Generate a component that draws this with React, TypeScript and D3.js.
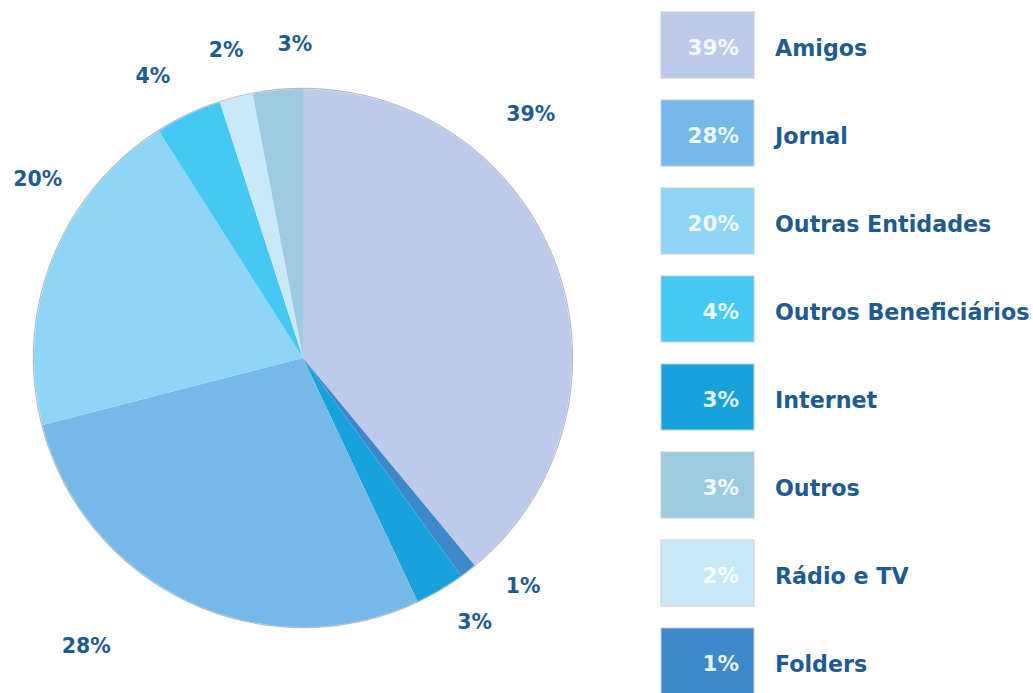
import React from "react";
import * as d3 from "d3";

const categories = ["Amigos", "Folders", "Internet", "Jornal", "Outras Entidades", "Outros Beneficiários", "Rádio e TV", "Outros"];
const values = [39, 1, 3, 28, 20, 4, 2, 3];
const colors = ["#bccbe9", "#3d88c8", "#18a2dc", "#74b9e7", "#8fd5f5", "#45c8f3", "#c9e9f9", "#9dcbe2"];
const legendOrder = ["Amigos", "Jornal", "Outras Entidades", "Outros Beneficiários", "Internet", "Outros", "Rádio e TV", "Folders"];
// label placement (polar, degrees clockwise from top, distance from center)
const labelAngles = [43, 136, 147, 217, 304, 332, 346, 358.5];
const labelRadii = [334, 317, 315, 360, 320, 320, 318, 314];

const W = 1033, H = 693;
const cx = 303, cy = 358, R = 269;
const textColor = "#1f5b8e";

export default function App() {
  const pie = d3.pie<number>().sort(null).value((d) => d);
  const arcs = pie(values);
  const arc = d3.arc<d3.PieArcDatum<number>>().innerRadius(0).outerRadius(R);
  const fmt = (v: number) => `${v}%`;
  const legendY = d3.scaleBand<string>().domain(legendOrder).range([12, 12 + 88 * legendOrder.length]).paddingInner(0);

  return (
    <svg width={W} height={H} style={{ position: "absolute", left: 0, top: 0, fontFamily: "DejaVu Sans, Verdana, sans-serif" }}>
      <g transform={`translate(${cx},${cy})`}>
        <circle r={R + 0.6} fill="none" stroke="#b8bcc2" strokeWidth={1.2} />
        {arcs.map((a, i) => (
          <path key={categories[i]} d={arc(a) || ""} fill={colors[i]} />
        ))}
        {arcs.map((a, i) => {
          const ang = (labelAngles[i] * Math.PI) / 180;
          const x = Math.sin(ang) * labelRadii[i];
          const y = -Math.cos(ang) * labelRadii[i];
          return (
            <text key={"l" + i} x={x} y={y} dy="0.35em" textAnchor="middle" fontSize={20.5} fontWeight="bold" fill={textColor}>
              {fmt(values[i])}
            </text>
          );
        })}
      </g>
      {legendOrder.map((name) => {
        const i = categories.indexOf(name);
        const y = legendY(name) as number;
        return (
          <g key={name} transform={`translate(661,${y})`}>
            <rect x={0} y={0} width={93} height={66} fill={colors[i]} stroke="#c8ccd2" strokeWidth={1} />
            <text x={78} y={35} dy="0.35em" textAnchor="end" fontSize={21.5} fontWeight="bold" fill="#ffffff" fillOpacity={0.9}>
              {fmt(values[i])}
            </text>
            <text x={114} y={36} dy="0.35em" fontSize={22.2} fontWeight="bold" fill={textColor}>
              {name}
            </text>
          </g>
        );
      })}
    </svg>
  );
}
